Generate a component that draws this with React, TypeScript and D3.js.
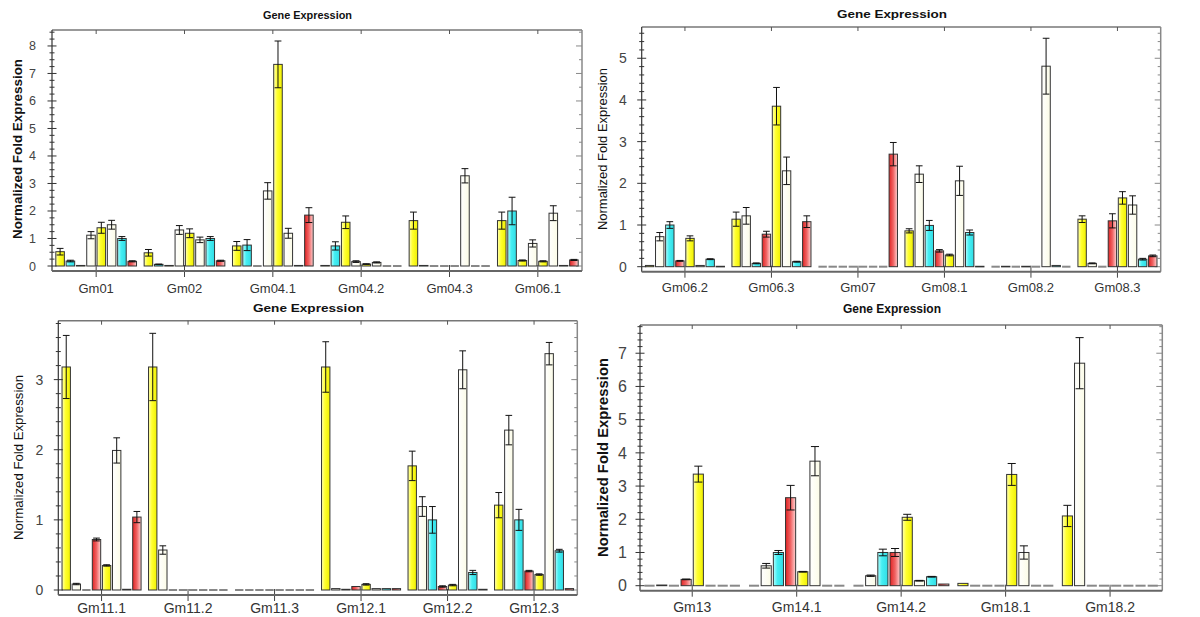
import React from "react";
import * as d3 from "d3";

// 8 sample slots per gene
const slots = d3.range(8);

// top-left panel
const p1Genes = ["Gm01", "Gm02", "Gm04.1", "Gm04.2", "Gm04.3", "Gm06.1"];
const p1Values = [
  [0.52, 0.18, 0.02, 1.12, 1.39, 1.5, 1.0, 0.17],
  [0.48, 0.06, 0.02, 1.31, 1.19, 0.95, 1.0, 0.19],
  [0.73, 0.76, 0, 2.73, 7.33, 1.19, 0.02, 1.85],
  [0.02, 0.73, 1.59, 0.16, 0.07, 0.13, 0, 0],
  [1.65, 0.02, 0, 0, 0, 3.28, 0, 0],
  [1.65, 2.0, 0.2, 0.82, 0.17, 1.92, 0.02, 0.22],
];
const p1Errors = [
  [0.12, 0.03, 0, 0.13, 0.2, 0.16, 0.07, 0.02],
  [0.12, 0.01, 0, 0.16, 0.16, 0.1, 0.07, 0.02],
  [0.16, 0.2, 0, 0.3, 0.85, 0.18, 0, 0.27],
  [0, 0.15, 0.23, 0.03, 0.01, 0.02, 0, 0],
  [0.31, 0, 0, 0, 0, 0.26, 0, 0],
  [0.31, 0.5, 0.02, 0.13, 0.02, 0.27, 0, 0.02],
];
const p1Colors = ["YCYIYICR", "YCYIYICR", "YCYIYICR", "YCYIYICR", "YCYIYICR", "YCYIYICR"];
const p1YTicks = [0, 1, 2, 3, 4, 5, 6, 7, 8];

// top-right panel
const p2Genes = ["Gm06.2", "Gm06.3", "Gm07", "Gm08.1", "Gm08.2", "Gm08.3"];
const p2Values = [
  [0.03, 0.72, 1.0, 0.14, 0.68, 0.03, 0.18, 0.01],
  [1.14, 1.22, 0.08, 0.78, 3.85, 2.3, 0.12, 1.08],
  [0, 0, 0, 0, 0, 0, 0, 2.7],
  [0.86, 2.22, 0.99, 0.38, 0.28, 2.06, 0.82, 0.01],
  [0, 0.01, 0, 0.01, 0, 4.81, 0.03, 0],
  [1.14, 0.08, 0, 1.1, 1.65, 1.48, 0.18, 0.26],
];
const p2Errors = [
  [0, 0.1, 0.08, 0.01, 0.06, 0, 0.01, 0],
  [0.17, 0.2, 0.01, 0.07, 0.45, 0.33, 0.01, 0.14],
  [0, 0, 0, 0, 0, 0, 0, 0.28],
  [0.05, 0.2, 0.12, 0.03, 0.02, 0.35, 0.06, 0],
  [0, 0, 0, 0, 0, 0.67, 0, 0],
  [0.08, 0.01, 0, 0.17, 0.15, 0.22, 0.02, 0.02],
];
const p2Colors = ["YICRYICR", "YICRYICR", "YICRYICR", "YICRYICR", "YICRYICR", "YICRYICR"];
const p2YTicks = [0, 1, 2, 3, 4, 5];

// bottom-left panel
const p3Genes = ["Gm11.1", "Gm11.2", "Gm11.3", "Gm12.1", "Gm12.2", "Gm12.3"];
const p3Values = [
  [3.18, 0.085, 0, 0.72, 0.35, 1.99, 0.01, 1.04],
  [3.18, 0.57, 0, 0, 0, 0, 0, 0],
  [0, 0, 0, 0, 0, 0, 0, 0],
  [3.18, 0.02, 0.01, 0.05, 0.08, 0.02, 0.02, 0.02],
  [1.77, 1.19, 1.0, 0.05, 0.07, 3.14, 0.25, 0.01],
  [1.21, 2.28, 1.0, 0.27, 0.22, 3.37, 0.56, 0.02],
];
const p3Errors = [
  [0.45, 0.01, 0, 0.02, 0.01, 0.18, 0, 0.08],
  [0.48, 0.06, 0, 0, 0, 0, 0, 0],
  [0, 0, 0, 0, 0, 0, 0, 0],
  [0.36, 0, 0, 0, 0.01, 0, 0, 0],
  [0.21, 0.14, 0.19, 0.01, 0.01, 0.27, 0.03, 0],
  [0.18, 0.21, 0.15, 0.01, 0.01, 0.16, 0.02, 0],
];
const p3Colors = ["YICRYICR", "YICRYICR", "YICRYICR", "YICRYICR", "YICRYICR", "YICRYICR"];
const p3YTicks = [0, 1, 2, 3];

// bottom-right panel
const p4Genes = ["Gm13", "Gm14.1", "Gm14.2", "Gm18.1", "Gm18.2"];
const p4Values = [
  [0, 0.02, 0, 0.19, 3.36, 0, 0, 0],
  [0, 0.6, 1.0, 2.65, 0.42, 3.75, 0, 0],
  [0, 0.3, 1.0, 1.0, 2.06, 0.15, 0.27, 0.05],
  [0.07, 0, 0, 0, 3.35, 1.0, 0, 0],
  [2.1, 6.7, 0, 0, 0, 0, 0, 0],
];
const p4Errors = [
  [0, 0, 0, 0.01, 0.24, 0, 0, 0],
  [0, 0.07, 0.06, 0.37, 0.01, 0.44, 0, 0],
  [0, 0.02, 0.1, 0.12, 0.09, 0.01, 0.01, 0],
  [0, 0, 0, 0, 0.33, 0.2, 0, 0],
  [0.32, 0.77, 0, 0, 0, 0, 0, 0],
];
const p4Colors = ["YICRYICR", "YICRYICR", "YICRYICR", "YICRYICR", "YIIIIIII"];
const p4YTicks = [0, 1, 2, 3, 4, 5, 6, 7];

const fills: Record<string, string> = { Y: "url(#gY)", I: "url(#gI)", C: "url(#gC)", R: "url(#gR)" };
const font = "'Liberation Sans', Arial, sans-serif";

type Layout = {
  left: number; right: number; top: number; zero: number; yMax: number;
  minor: number; rightMinor: number;
  titleX: number; titleY: number; titleSize: number; titleLen: number;
  labX: number; labY: number; labSize: number; labLen: number; labBold: boolean;
  tickSize: number; tickGap: number; catSize: number; catY: number;
};

function Panel({ genes, values, errors, colors, yTicks, L }: any) {
  const lay: Layout = L;
  const bottom = lay.zero + 5;
  const x = d3.scaleBand<string>().domain(genes).range([lay.left, lay.right]);
  const inner = d3.scaleBand<number>().domain(slots).range([0, x.bandwidth()]).paddingInner(0.17).paddingOuter(0.37);
  const y = d3.scaleLinear().domain([0, lay.yMax]).range([lay.zero, lay.top]);
  const bw = inner.bandwidth();
  const minors = d3.range(0, Math.floor(lay.yMax / lay.minor + 1e-6) + 1).map((i) => i * lay.minor);
  const rminors = d3.range(0, Math.floor(lay.yMax / lay.rightMinor + 1e-6) + 1).map((i) => i * lay.rightMinor);
  const isMajor = (v: number) => Math.abs(v - Math.round(v)) < 1e-6;

  return (
    <g fontFamily={font}>
      <text x={lay.titleX} y={lay.titleY} textAnchor="middle" fontWeight="bold" fontSize={lay.titleSize}
        textLength={lay.titleLen} lengthAdjust="spacingAndGlyphs" fill="#111">Gene Expression</text>
      <text transform={`translate(${lay.labX},${lay.labY}) rotate(-90)`} textAnchor="middle" dy="0.35em"
        fontWeight={lay.labBold ? "bold" : "normal"} fontSize={lay.labSize} textLength={lay.labLen}
        lengthAdjust="spacingAndGlyphs" fill="#111">Normalized Fold Expression</text>

      {/* frame: top + right */}
      <line x1={lay.left} x2={lay.right} y1={lay.top} y2={lay.top} stroke="#777" strokeWidth={1.5} />
      <line x1={lay.right} x2={lay.right} y1={lay.top} y2={bottom} stroke="#888" strokeWidth={1.5} />
      {rminors.map((v) => (
        <line key={"r" + v} x1={lay.right} x2={lay.right - (isMajor(v) ? 6 : 3)} y1={y(v)} y2={y(v)} stroke="#888" />
      ))}
      {genes.map((g: string) => {
        const cx = x(g)! + x.bandwidth() / 2;
        return (
          <g key={"t" + g}>
            <line x1={cx} x2={cx} y1={lay.top} y2={lay.top + 4} stroke="#555" />
            <line x1={cx} x2={cx} y1={bottom - 6} y2={bottom + 6} stroke="#444" />
            <text x={cx} y={lay.catY} textAnchor="middle" fontSize={lay.catSize} fill="#333">{g}</text>
          </g>
        );
      })}

      {/* bars */}
      {genes.map((g: string, gi: number) => (
        <g key={g} transform={`translate(${x(g)},0)`}>
          {slots.map((s) => {
            const v = values[gi][s];
            const bx = inner(s)!;
            if (v === 0) {
              return <line key={s} x1={bx} x2={bx + bw} y1={lay.zero} y2={lay.zero} stroke="#888" strokeWidth={2} />;
            }
            const e = errors[gi][s];
            const cx = bx + bw / 2;
            const cap = bw * 0.4;
            return (
              <g key={s}>
                <rect x={bx} y={y(v)} width={bw} height={Math.max(lay.zero - y(v), 0.6)}
                  fill={fills[colors[gi][s]]} stroke="#333" strokeWidth={1} />
                {e > 0 && (
                  <g stroke="#111" strokeWidth={1}>
                    <line x1={cx} x2={cx} y1={y(v + e)} y2={y(Math.max(v - e, 0))} />
                    <line x1={cx - cap} x2={cx + cap} y1={y(v + e)} y2={y(v + e)} />
                    <line x1={cx - cap} x2={cx + cap} y1={y(v - e)} y2={y(v - e)} />
                  </g>
                )}
              </g>
            );
          })}
        </g>
      ))}

      {/* left axis */}
      <line x1={lay.left} x2={lay.left} y1={lay.top} y2={bottom} stroke="#333" strokeWidth={1.2} />
      {minors.map((v) => {
        const l = isMajor(v) ? 4.5 : 2.5;
        return <line key={"l" + v} x1={lay.left - l} x2={lay.left + l} y1={y(v)} y2={y(v)} stroke="#333" />;
      })}
      {yTicks.map((t: number) => (
        <text key={"yl" + t} x={lay.left - lay.tickGap} y={y(t)} dy="0.36em" textAnchor="end"
          fontSize={lay.tickSize} fill="#444">{t}</text>
      ))}
      {/* bottom axis */}
      <line x1={lay.left} x2={lay.right} y1={bottom} y2={bottom} stroke="#666" strokeWidth={2} />
    </g>
  );
}

const L1: Layout = { left: 52, right: 582, top: 30, zero: 266, yMax: 8.58, minor: 0.25, rightMinor: 0.5,
  titleX: 307.5, titleY: 19, titleSize: 11, titleLen: 89, labX: 17, labY: 149, labSize: 13, labLen: 180, labBold: true,
  tickSize: 12.5, tickGap: 16, catSize: 13, catY: 293 };
const L2: Layout = { left: 641.7, right: 1160.7, top: 27, zero: 266.7, yMax: 5.75, minor: 0.2, rightMinor: 0.2,
  titleX: 892, titleY: 18, titleSize: 11.5, titleLen: 110, labX: 602, labY: 149, labSize: 13.5, labLen: 162, labBold: false,
  tickSize: 14, tickGap: 15, catSize: 13, catY: 292 };
const L3: Layout = { left: 58.3, right: 577.3, top: 320.7, zero: 590, yMax: 3.84, minor: 0.2, rightMinor: 0.2,
  titleX: 308.5, titleY: 312, titleSize: 11.5, titleLen: 111, labX: 18, labY: 457.5, labSize: 13.5, labLen: 165, labBold: false,
  tickSize: 14, tickGap: 15, catSize: 14, catY: 613 };
const L4: Layout = { left: 640, right: 1162.3, top: 325, zero: 585.7, yMax: 7.85, minor: 0.2, rightMinor: 0.2,
  titleX: 892, titleY: 313, titleSize: 12, titleLen: 98, labX: 603, labY: 457.5, labSize: 14.8, labLen: 199, labBold: true,
  tickSize: 16, tickGap: 13, catSize: 14, catY: 612 };

export default function App() {
  return (
    <svg width={1200} height={617} style={{ position: "absolute", left: 0, top: 0, background: "#fff" }}>
      <defs>
        <linearGradient id="gY" x1="0" x2="1" y1="0" y2="0">
          <stop offset="0" stopColor="#ffffb8" />
          <stop offset="0.4" stopColor="#ffff30" />
          <stop offset="1" stopColor="#f0f000" />
        </linearGradient>
        <linearGradient id="gI" x1="0" x2="1" y1="0" y2="0">
          <stop offset="0" stopColor="#ffffff" />
          <stop offset="1" stopColor="#fbfbe6" />
        </linearGradient>
        <linearGradient id="gC" x1="0" x2="1" y1="0" y2="0">
          <stop offset="0" stopColor="#b0ffff" />
          <stop offset="0.4" stopColor="#45eef2" />
          <stop offset="1" stopColor="#30dde6" />
        </linearGradient>
        <linearGradient id="gR" x1="0" x2="1" y1="0" y2="0">
          <stop offset="0" stopColor="#e02424" />
          <stop offset="0.5" stopColor="#f06464" />
          <stop offset="1" stopColor="#ffd2d2" />
        </linearGradient>
      </defs>
      <rect width={1200} height={617} fill="#fff" />
      <Panel genes={p1Genes} values={p1Values} errors={p1Errors} colors={p1Colors} yTicks={p1YTicks} L={L1} />
      <Panel genes={p2Genes} values={p2Values} errors={p2Errors} colors={p2Colors} yTicks={p2YTicks} L={L2} />
      <Panel genes={p3Genes} values={p3Values} errors={p3Errors} colors={p3Colors} yTicks={p3YTicks} L={L3} />
      <Panel genes={p4Genes} values={p4Values} errors={p4Errors} colors={p4Colors} yTicks={p4YTicks} L={L4} />
    </svg>
  );
}
